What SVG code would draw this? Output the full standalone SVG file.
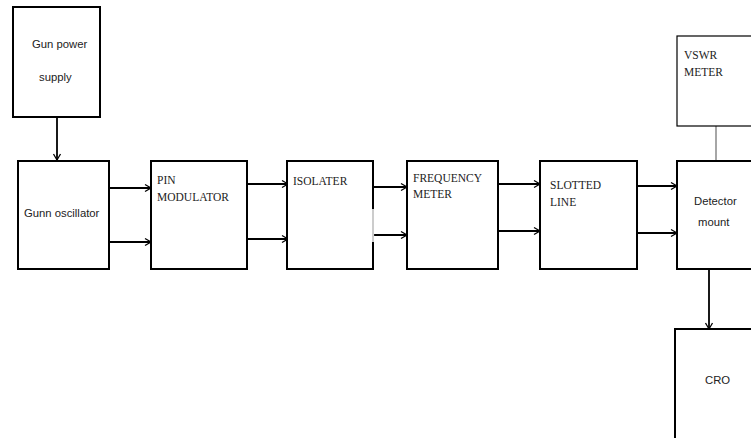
<svg xmlns="http://www.w3.org/2000/svg" width="751" height="438" viewBox="0 0 751 438">
<defs>
<marker id="arr" markerWidth="10" markerHeight="10" refX="8" refY="5" orient="auto" markerUnits="userSpaceOnUse">
<polyline points="2,1.5 8,5 2,8.5" fill="none" stroke="#000" stroke-width="1.3"/>
</marker>
<style>
.box{fill:#fff;stroke:#000;stroke-width:2}
.thin{fill:#fff;stroke:#000;stroke-width:1.2}
.sans{font-family:"Liberation Sans",Arial,sans-serif;font-size:11.3px;fill:#222}
.serif{font-family:"Liberation Serif","Times New Roman",serif;font-size:11.5px;fill:#222}
.c{fill:none;stroke:#000;stroke-width:1.8;marker-end:url(#arr)}
</style>
</defs>
<rect width="751" height="438" fill="#fff"/>
<g id="connectors">
<line class="c" x1="57" y1="117" x2="57" y2="160"/>
<line class="c" x1="109" y1="188" x2="151" y2="188"/>
<line class="c" x1="109" y1="242" x2="151" y2="242"/>
<line class="c" x1="247" y1="184" x2="288" y2="184"/>
<line class="c" x1="247" y1="239" x2="288" y2="239"/>
<line class="c" x1="373" y1="187" x2="407" y2="187"/>
<line class="c" x1="373" y1="235" x2="407" y2="235"/>
<line class="c" x1="498" y1="184" x2="540" y2="184"/>
<line class="c" x1="498" y1="231" x2="540" y2="231"/>
<line class="c" x1="637" y1="186" x2="677" y2="186"/>
<line class="c" x1="637" y1="233" x2="677" y2="233"/>
<line x1="716" y1="126" x2="716" y2="161" stroke="#888" stroke-width="1.5"/>
<line class="c" x1="709" y1="269" x2="709" y2="329"/>
</g>
<g id="gun-power-supply">
<rect class="box" x="13" y="7" width="87" height="110"/>
<text class="sans" x="32" y="48">Gun power</text>
<text class="sans" x="39" y="81">supply</text>
</g>
<g id="gunn-oscillator">
<rect class="box" x="18" y="161" width="91" height="108"/>
<text class="sans" x="24" y="217">Gunn oscillator</text>
</g>
<g id="pin-modulator">
<rect class="box" x="151" y="161" width="96" height="108"/>
<text class="serif" x="157" y="184">PIN</text>
<text class="serif" x="157" y="201">MODULATOR</text>
</g>
<g id="isolater">
<rect class="box" x="287" y="161" width="86" height="108"/>
<line x1="373" y1="209" x2="373" y2="242" stroke="#fff" stroke-width="2.2"/>
<line x1="373" y1="209" x2="373" y2="242" stroke="#999" stroke-width="1"/>
<text class="serif" x="293" y="185">ISOLATER</text>
</g>
<g id="frequency-meter">
<rect class="box" x="407" y="161" width="91" height="108"/>
<text class="serif" x="413" y="182">FREQUENCY</text>
<text class="serif" x="413" y="198">METER</text>
</g>
<g id="slotted-line">
<rect class="box" x="540" y="161" width="97" height="108"/>
<text class="serif" x="550" y="189">SLOTTED</text>
<text class="serif" x="550" y="206">LINE</text>
</g>
<g id="vswr-meter">
<rect class="thin" x="677" y="36" width="90" height="90"/>
<text class="serif" x="684" y="59">VSWR</text>
<text class="serif" x="684" y="76">METER</text>
</g>
<g id="detector-mount">
<rect class="box" x="677" y="161" width="90" height="108"/>
<text class="sans" x="694" y="205">Detector</text>
<text class="sans" x="698" y="226">mount</text>
</g>
<g id="cro">
<rect class="box" x="675" y="329" width="90" height="130"/>
<text class="sans" x="705" y="384">CRO</text>
</g>
</svg>
